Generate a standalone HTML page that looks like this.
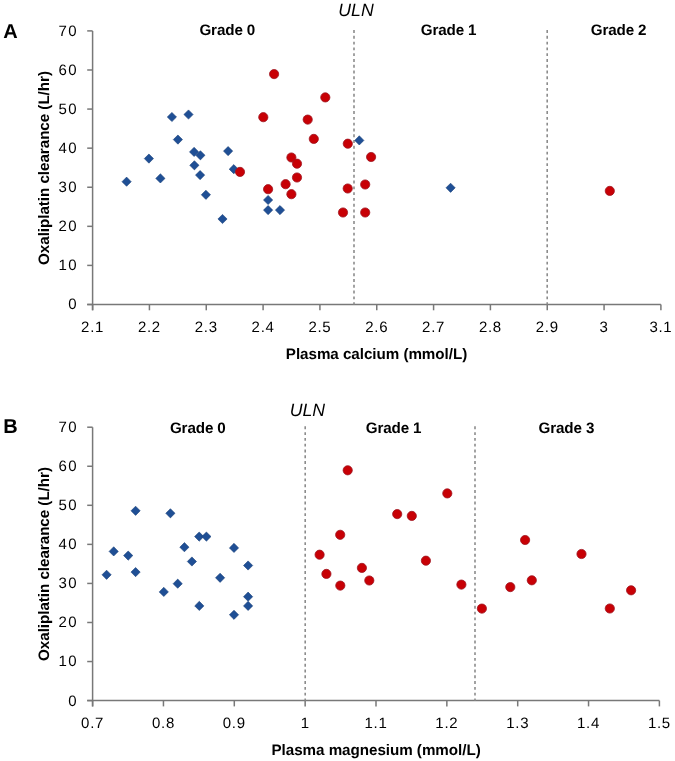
<!DOCTYPE html><html><head><meta charset="utf-8"><style>
html,body{margin:0;padding:0;background:#fff;}
svg{display:block;will-change:transform;}
text{font-family:"Liberation Sans",sans-serif;fill:#000;text-rendering:geometricPrecision;}
.t{font-size:15.0px;}
.ty{letter-spacing:1.5px;}
.tx{letter-spacing:0.7px;}
.b{font-size:15.2px;font-weight:bold;letter-spacing:-0.12px;}
.at{font-size:15.2px;font-weight:bold;letter-spacing:-0.04px;}
.p{font-size:20px;font-weight:bold;}
.u{font-size:17.7px;font-style:italic;}
</style></head><body>
<svg width="675" height="761" viewBox="0 0 675 761">
<rect width="675" height="761" fill="#fff"/>
<line x1="92.6" y1="30.9" x2="92.6" y2="310.30" stroke="#787878" stroke-width="1.5"/>
<line x1="87.20" y1="304.5" x2="660.9" y2="304.5" stroke="#787878" stroke-width="1.5"/>
<line x1="87.20" y1="304.50" x2="92.6" y2="304.50" stroke="#787878" stroke-width="1.5"/>
<text x="78.1" y="309.40" text-anchor="end" class="t ty">0</text>
<line x1="87.20" y1="265.41" x2="92.6" y2="265.41" stroke="#787878" stroke-width="1.5"/>
<text x="78.1" y="270.31" text-anchor="end" class="t ty">10</text>
<line x1="87.20" y1="226.33" x2="92.6" y2="226.33" stroke="#787878" stroke-width="1.5"/>
<text x="78.1" y="231.23" text-anchor="end" class="t ty">20</text>
<line x1="87.20" y1="187.24" x2="92.6" y2="187.24" stroke="#787878" stroke-width="1.5"/>
<text x="78.1" y="192.14" text-anchor="end" class="t ty">30</text>
<line x1="87.20" y1="148.16" x2="92.6" y2="148.16" stroke="#787878" stroke-width="1.5"/>
<text x="78.1" y="153.06" text-anchor="end" class="t ty">40</text>
<line x1="87.20" y1="109.07" x2="92.6" y2="109.07" stroke="#787878" stroke-width="1.5"/>
<text x="78.1" y="113.97" text-anchor="end" class="t ty">50</text>
<line x1="87.20" y1="69.99" x2="92.6" y2="69.99" stroke="#787878" stroke-width="1.5"/>
<text x="78.1" y="74.89" text-anchor="end" class="t ty">60</text>
<line x1="87.20" y1="30.90" x2="92.6" y2="30.90" stroke="#787878" stroke-width="1.5"/>
<text x="78.1" y="35.80" text-anchor="end" class="t ty">70</text>
<line x1="92.60" y1="304.5" x2="92.60" y2="310.30" stroke="#787878" stroke-width="1.5"/>
<text x="92.60" y="332.00" text-anchor="middle" class="t tx">2.1</text>
<line x1="149.43" y1="304.5" x2="149.43" y2="310.30" stroke="#787878" stroke-width="1.5"/>
<text x="149.43" y="332.00" text-anchor="middle" class="t tx">2.2</text>
<line x1="206.26" y1="304.5" x2="206.26" y2="310.30" stroke="#787878" stroke-width="1.5"/>
<text x="206.26" y="332.00" text-anchor="middle" class="t tx">2.3</text>
<line x1="263.09" y1="304.5" x2="263.09" y2="310.30" stroke="#787878" stroke-width="1.5"/>
<text x="263.09" y="332.00" text-anchor="middle" class="t tx">2.4</text>
<line x1="319.92" y1="304.5" x2="319.92" y2="310.30" stroke="#787878" stroke-width="1.5"/>
<text x="319.92" y="332.00" text-anchor="middle" class="t tx">2.5</text>
<line x1="376.75" y1="304.5" x2="376.75" y2="310.30" stroke="#787878" stroke-width="1.5"/>
<text x="376.75" y="332.00" text-anchor="middle" class="t tx">2.6</text>
<line x1="433.58" y1="304.5" x2="433.58" y2="310.30" stroke="#787878" stroke-width="1.5"/>
<text x="433.58" y="332.00" text-anchor="middle" class="t tx">2.7</text>
<line x1="490.41" y1="304.5" x2="490.41" y2="310.30" stroke="#787878" stroke-width="1.5"/>
<text x="490.41" y="332.00" text-anchor="middle" class="t tx">2.8</text>
<line x1="547.24" y1="304.5" x2="547.24" y2="310.30" stroke="#787878" stroke-width="1.5"/>
<text x="547.24" y="332.00" text-anchor="middle" class="t tx">2.9</text>
<line x1="604.07" y1="304.5" x2="604.07" y2="310.30" stroke="#787878" stroke-width="1.5"/>
<text x="604.07" y="332.00" text-anchor="middle" class="t tx">3</text>
<line x1="660.90" y1="304.5" x2="660.90" y2="310.30" stroke="#787878" stroke-width="1.5"/>
<text x="660.90" y="332.00" text-anchor="middle" class="t tx">3.1</text>
<line x1="354.0" y1="30.05" x2="354.0" y2="304.5" stroke="#8c8c8c" stroke-width="1.6" stroke-dasharray="2.9 2.89"/>
<line x1="547.2" y1="30.05" x2="547.2" y2="304.5" stroke="#8c8c8c" stroke-width="1.6" stroke-dasharray="2.9 2.89"/>
<path d="M126.6 177.1L131.2 181.7L126.6 186.3L122.0 181.7Z" fill="#1f4f95" stroke="#1a3f78" stroke-width="0.6"/>
<path d="M148.9 154.0L153.5 158.6L148.9 163.2L144.3 158.6Z" fill="#1f4f95" stroke="#1a3f78" stroke-width="0.6"/>
<path d="M160.4 173.8L165.0 178.4L160.4 183.0L155.8 178.4Z" fill="#1f4f95" stroke="#1a3f78" stroke-width="0.6"/>
<path d="M171.9 112.4L176.5 117.0L171.9 121.6L167.3 117.0Z" fill="#1f4f95" stroke="#1a3f78" stroke-width="0.6"/>
<path d="M188.5 109.9L193.1 114.5L188.5 119.1L183.9 114.5Z" fill="#1f4f95" stroke="#1a3f78" stroke-width="0.6"/>
<path d="M177.9 135.0L182.5 139.6L177.9 144.2L173.3 139.6Z" fill="#1f4f95" stroke="#1a3f78" stroke-width="0.6"/>
<path d="M194.1 147.3L198.7 151.9L194.1 156.5L189.5 151.9Z" fill="#1f4f95" stroke="#1a3f78" stroke-width="0.6"/>
<path d="M200.4 150.7L205.0 155.3L200.4 159.9L195.8 155.3Z" fill="#1f4f95" stroke="#1a3f78" stroke-width="0.6"/>
<path d="M194.4 160.7L199.0 165.3L194.4 169.9L189.8 165.3Z" fill="#1f4f95" stroke="#1a3f78" stroke-width="0.6"/>
<path d="M200.1 170.5L204.7 175.1L200.1 179.7L195.5 175.1Z" fill="#1f4f95" stroke="#1a3f78" stroke-width="0.6"/>
<path d="M205.9 190.2L210.5 194.8L205.9 199.4L201.3 194.8Z" fill="#1f4f95" stroke="#1a3f78" stroke-width="0.6"/>
<path d="M228.1 146.5L232.7 151.1L228.1 155.7L223.5 151.1Z" fill="#1f4f95" stroke="#1a3f78" stroke-width="0.6"/>
<path d="M233.8 164.6L238.4 169.2L233.8 173.8L229.2 169.2Z" fill="#1f4f95" stroke="#1a3f78" stroke-width="0.6"/>
<path d="M222.5 214.4L227.1 219.0L222.5 223.6L217.9 219.0Z" fill="#1f4f95" stroke="#1a3f78" stroke-width="0.6"/>
<path d="M268.1 195.4L272.7 200.0L268.1 204.6L263.5 200.0Z" fill="#1f4f95" stroke="#1a3f78" stroke-width="0.6"/>
<path d="M268.1 205.5L272.7 210.1L268.1 214.7L263.5 210.1Z" fill="#1f4f95" stroke="#1a3f78" stroke-width="0.6"/>
<path d="M280.0 205.5L284.6 210.1L280.0 214.7L275.4 210.1Z" fill="#1f4f95" stroke="#1a3f78" stroke-width="0.6"/>
<path d="M359.3 135.8L363.9 140.4L359.3 145.0L354.7 140.4Z" fill="#1f4f95" stroke="#1a3f78" stroke-width="0.6"/>
<path d="M450.6 183.2L455.2 187.8L450.6 192.4L446.0 187.8Z" fill="#1f4f95" stroke="#1a3f78" stroke-width="0.6"/>
<circle cx="263.3" cy="117.2" r="4.6" fill="#c80005" stroke="#9e1420" stroke-width="0.8"/>
<circle cx="240.0" cy="171.9" r="4.6" fill="#c80005" stroke="#9e1420" stroke-width="0.8"/>
<circle cx="268.1" cy="189.2" r="4.6" fill="#c80005" stroke="#9e1420" stroke-width="0.8"/>
<circle cx="291.4" cy="157.5" r="4.6" fill="#c80005" stroke="#9e1420" stroke-width="0.8"/>
<circle cx="297.0" cy="163.7" r="4.6" fill="#c80005" stroke="#9e1420" stroke-width="0.8"/>
<circle cx="297.0" cy="177.5" r="4.6" fill="#c80005" stroke="#9e1420" stroke-width="0.8"/>
<circle cx="285.6" cy="184.2" r="4.6" fill="#c80005" stroke="#9e1420" stroke-width="0.8"/>
<circle cx="291.4" cy="194.2" r="4.6" fill="#c80005" stroke="#9e1420" stroke-width="0.8"/>
<circle cx="274.1" cy="74.1" r="4.6" fill="#c80005" stroke="#9e1420" stroke-width="0.8"/>
<circle cx="325.3" cy="97.4" r="4.6" fill="#c80005" stroke="#9e1420" stroke-width="0.8"/>
<circle cx="307.7" cy="119.6" r="4.6" fill="#c80005" stroke="#9e1420" stroke-width="0.8"/>
<circle cx="313.8" cy="138.9" r="4.6" fill="#c80005" stroke="#9e1420" stroke-width="0.8"/>
<circle cx="347.8" cy="143.7" r="4.6" fill="#c80005" stroke="#9e1420" stroke-width="0.8"/>
<circle cx="371.1" cy="157.0" r="4.6" fill="#c80005" stroke="#9e1420" stroke-width="0.8"/>
<circle cx="347.7" cy="188.5" r="4.6" fill="#c80005" stroke="#9e1420" stroke-width="0.8"/>
<circle cx="365.2" cy="184.5" r="4.6" fill="#c80005" stroke="#9e1420" stroke-width="0.8"/>
<circle cx="343.0" cy="212.5" r="4.6" fill="#c80005" stroke="#9e1420" stroke-width="0.8"/>
<circle cx="365.2" cy="212.5" r="4.6" fill="#c80005" stroke="#9e1420" stroke-width="0.8"/>
<circle cx="609.8" cy="190.9" r="4.6" fill="#c80005" stroke="#9e1420" stroke-width="0.8"/>
<text x="3.3" y="38.4" class="p">A</text>
<text x="356" y="16.2" text-anchor="middle" class="u">ULN</text>
<text x="227.3" y="34.6" text-anchor="middle" class="b">Grade 0</text>
<text x="448.6" y="34.6" text-anchor="middle" class="b">Grade 1</text>
<text x="618.6" y="34.6" text-anchor="middle" class="b">Grade 2</text>
<text x="376.5" y="358.7" text-anchor="middle" class="at">Plasma calcium (mmol/L)</text>
<text transform="translate(49.0 168) rotate(-90)" text-anchor="middle" class="at">Oxaliplatin clearance (L/hr)</text>
<line x1="92.6" y1="427.2" x2="92.6" y2="706.40" stroke="#787878" stroke-width="1.5"/>
<line x1="87.20" y1="700.6" x2="659.4" y2="700.6" stroke="#787878" stroke-width="1.5"/>
<line x1="87.20" y1="700.60" x2="92.6" y2="700.60" stroke="#787878" stroke-width="1.5"/>
<text x="78.1" y="705.50" text-anchor="end" class="t ty">0</text>
<line x1="87.20" y1="661.54" x2="92.6" y2="661.54" stroke="#787878" stroke-width="1.5"/>
<text x="78.1" y="666.44" text-anchor="end" class="t ty">10</text>
<line x1="87.20" y1="622.49" x2="92.6" y2="622.49" stroke="#787878" stroke-width="1.5"/>
<text x="78.1" y="627.39" text-anchor="end" class="t ty">20</text>
<line x1="87.20" y1="583.43" x2="92.6" y2="583.43" stroke="#787878" stroke-width="1.5"/>
<text x="78.1" y="588.33" text-anchor="end" class="t ty">30</text>
<line x1="87.20" y1="544.37" x2="92.6" y2="544.37" stroke="#787878" stroke-width="1.5"/>
<text x="78.1" y="549.27" text-anchor="end" class="t ty">40</text>
<line x1="87.20" y1="505.31" x2="92.6" y2="505.31" stroke="#787878" stroke-width="1.5"/>
<text x="78.1" y="510.21" text-anchor="end" class="t ty">50</text>
<line x1="87.20" y1="466.26" x2="92.6" y2="466.26" stroke="#787878" stroke-width="1.5"/>
<text x="78.1" y="471.16" text-anchor="end" class="t ty">60</text>
<line x1="87.20" y1="427.20" x2="92.6" y2="427.20" stroke="#787878" stroke-width="1.5"/>
<text x="78.1" y="432.10" text-anchor="end" class="t ty">70</text>
<line x1="92.60" y1="700.6" x2="92.60" y2="706.40" stroke="#787878" stroke-width="1.5"/>
<text x="92.60" y="728.10" text-anchor="middle" class="t tx">0.7</text>
<line x1="163.45" y1="700.6" x2="163.45" y2="706.40" stroke="#787878" stroke-width="1.5"/>
<text x="163.45" y="728.10" text-anchor="middle" class="t tx">0.8</text>
<line x1="234.30" y1="700.6" x2="234.30" y2="706.40" stroke="#787878" stroke-width="1.5"/>
<text x="234.30" y="728.10" text-anchor="middle" class="t tx">0.9</text>
<line x1="305.15" y1="700.6" x2="305.15" y2="706.40" stroke="#787878" stroke-width="1.5"/>
<text x="305.15" y="728.10" text-anchor="middle" class="t tx">1</text>
<line x1="376.00" y1="700.6" x2="376.00" y2="706.40" stroke="#787878" stroke-width="1.5"/>
<text x="376.00" y="728.10" text-anchor="middle" class="t tx">1.1</text>
<line x1="446.85" y1="700.6" x2="446.85" y2="706.40" stroke="#787878" stroke-width="1.5"/>
<text x="446.85" y="728.10" text-anchor="middle" class="t tx">1.2</text>
<line x1="517.70" y1="700.6" x2="517.70" y2="706.40" stroke="#787878" stroke-width="1.5"/>
<text x="517.70" y="728.10" text-anchor="middle" class="t tx">1.3</text>
<line x1="588.55" y1="700.6" x2="588.55" y2="706.40" stroke="#787878" stroke-width="1.5"/>
<text x="588.55" y="728.10" text-anchor="middle" class="t tx">1.4</text>
<line x1="659.40" y1="700.6" x2="659.40" y2="706.40" stroke="#787878" stroke-width="1.5"/>
<text x="659.40" y="728.10" text-anchor="middle" class="t tx">1.5</text>
<line x1="305.2" y1="426.35" x2="305.2" y2="700.6" stroke="#8c8c8c" stroke-width="1.6" stroke-dasharray="2.9 2.89"/>
<line x1="475.0" y1="426.35" x2="475.0" y2="700.6" stroke="#8c8c8c" stroke-width="1.6" stroke-dasharray="2.9 2.89"/>
<path d="M106.6 570.2L111.2 574.8L106.6 579.4L102.0 574.8Z" fill="#1f4f95" stroke="#1a3f78" stroke-width="0.6"/>
<path d="M113.7 546.8L118.3 551.4L113.7 556.0L109.1 551.4Z" fill="#1f4f95" stroke="#1a3f78" stroke-width="0.6"/>
<path d="M128.2 551.0L132.8 555.6L128.2 560.2L123.6 555.6Z" fill="#1f4f95" stroke="#1a3f78" stroke-width="0.6"/>
<path d="M135.6 506.2L140.2 510.8L135.6 515.4L131.0 510.8Z" fill="#1f4f95" stroke="#1a3f78" stroke-width="0.6"/>
<path d="M135.6 567.5L140.2 572.1L135.6 576.7L131.0 572.1Z" fill="#1f4f95" stroke="#1a3f78" stroke-width="0.6"/>
<path d="M163.8 587.3L168.4 591.9L163.8 596.5L159.2 591.9Z" fill="#1f4f95" stroke="#1a3f78" stroke-width="0.6"/>
<path d="M170.4 508.7L175.0 513.3L170.4 517.9L165.8 513.3Z" fill="#1f4f95" stroke="#1a3f78" stroke-width="0.6"/>
<path d="M177.7 579.1L182.3 583.7L177.7 588.3L173.1 583.7Z" fill="#1f4f95" stroke="#1a3f78" stroke-width="0.6"/>
<path d="M184.4 542.6L189.0 547.2L184.4 551.8L179.8 547.2Z" fill="#1f4f95" stroke="#1a3f78" stroke-width="0.6"/>
<path d="M191.9 556.9L196.5 561.5L191.9 566.1L187.3 561.5Z" fill="#1f4f95" stroke="#1a3f78" stroke-width="0.6"/>
<path d="M199.2 532.0L203.8 536.6L199.2 541.2L194.6 536.6Z" fill="#1f4f95" stroke="#1a3f78" stroke-width="0.6"/>
<path d="M199.3 601.3L203.9 605.9L199.3 610.5L194.7 605.9Z" fill="#1f4f95" stroke="#1a3f78" stroke-width="0.6"/>
<path d="M206.4 532.0L211.0 536.6L206.4 541.2L201.8 536.6Z" fill="#1f4f95" stroke="#1a3f78" stroke-width="0.6"/>
<path d="M220.1 573.2L224.7 577.8L220.1 582.4L215.5 577.8Z" fill="#1f4f95" stroke="#1a3f78" stroke-width="0.6"/>
<path d="M234.0 543.3L238.6 547.9L234.0 552.5L229.4 547.9Z" fill="#1f4f95" stroke="#1a3f78" stroke-width="0.6"/>
<path d="M234.0 610.2L238.6 614.8L234.0 619.4L229.4 614.8Z" fill="#1f4f95" stroke="#1a3f78" stroke-width="0.6"/>
<path d="M248.1 560.9L252.7 565.5L248.1 570.1L243.5 565.5Z" fill="#1f4f95" stroke="#1a3f78" stroke-width="0.6"/>
<path d="M248.1 592.1L252.7 596.7L248.1 601.3L243.5 596.7Z" fill="#1f4f95" stroke="#1a3f78" stroke-width="0.6"/>
<path d="M248.1 601.3L252.7 605.9L248.1 610.5L243.5 605.9Z" fill="#1f4f95" stroke="#1a3f78" stroke-width="0.6"/>
<circle cx="347.7" cy="470.3" r="4.6" fill="#c80005" stroke="#9e1420" stroke-width="0.8"/>
<circle cx="340.2" cy="534.8" r="4.6" fill="#c80005" stroke="#9e1420" stroke-width="0.8"/>
<circle cx="397.2" cy="514.1" r="4.6" fill="#c80005" stroke="#9e1420" stroke-width="0.8"/>
<circle cx="319.6" cy="554.7" r="4.6" fill="#c80005" stroke="#9e1420" stroke-width="0.8"/>
<circle cx="326.4" cy="573.9" r="4.6" fill="#c80005" stroke="#9e1420" stroke-width="0.8"/>
<circle cx="340.3" cy="585.6" r="4.6" fill="#c80005" stroke="#9e1420" stroke-width="0.8"/>
<circle cx="361.9" cy="567.9" r="4.6" fill="#c80005" stroke="#9e1420" stroke-width="0.8"/>
<circle cx="369.3" cy="580.5" r="4.6" fill="#c80005" stroke="#9e1420" stroke-width="0.8"/>
<circle cx="447.3" cy="493.4" r="4.6" fill="#c80005" stroke="#9e1420" stroke-width="0.8"/>
<circle cx="411.8" cy="515.9" r="4.6" fill="#c80005" stroke="#9e1420" stroke-width="0.8"/>
<circle cx="425.9" cy="560.7" r="4.6" fill="#c80005" stroke="#9e1420" stroke-width="0.8"/>
<circle cx="461.4" cy="584.6" r="4.6" fill="#c80005" stroke="#9e1420" stroke-width="0.8"/>
<circle cx="481.9" cy="608.6" r="4.6" fill="#c80005" stroke="#9e1420" stroke-width="0.8"/>
<circle cx="510.3" cy="587.1" r="4.6" fill="#c80005" stroke="#9e1420" stroke-width="0.8"/>
<circle cx="525.1" cy="540.0" r="4.6" fill="#c80005" stroke="#9e1420" stroke-width="0.8"/>
<circle cx="531.8" cy="580.3" r="4.6" fill="#c80005" stroke="#9e1420" stroke-width="0.8"/>
<circle cx="581.5" cy="554.0" r="4.6" fill="#c80005" stroke="#9e1420" stroke-width="0.8"/>
<circle cx="631.1" cy="590.3" r="4.6" fill="#c80005" stroke="#9e1420" stroke-width="0.8"/>
<circle cx="609.8" cy="608.5" r="4.6" fill="#c80005" stroke="#9e1420" stroke-width="0.8"/>
<text x="3.3" y="432.8" class="p">B</text>
<text x="307.4" y="416.3" text-anchor="middle" class="u">ULN</text>
<text x="197.8" y="432.5" text-anchor="middle" class="b">Grade 0</text>
<text x="393.6" y="432.5" text-anchor="middle" class="b">Grade 1</text>
<text x="566.4" y="432.5" text-anchor="middle" class="b">Grade 3</text>
<text x="376.1" y="755.0" text-anchor="middle" class="at">Plasma magnesium (mmol/L)</text>
<text transform="translate(49.4 564) rotate(-90)" text-anchor="middle" class="at">Oxaliplatin clearance (L/hr)</text>
</svg></body></html>
